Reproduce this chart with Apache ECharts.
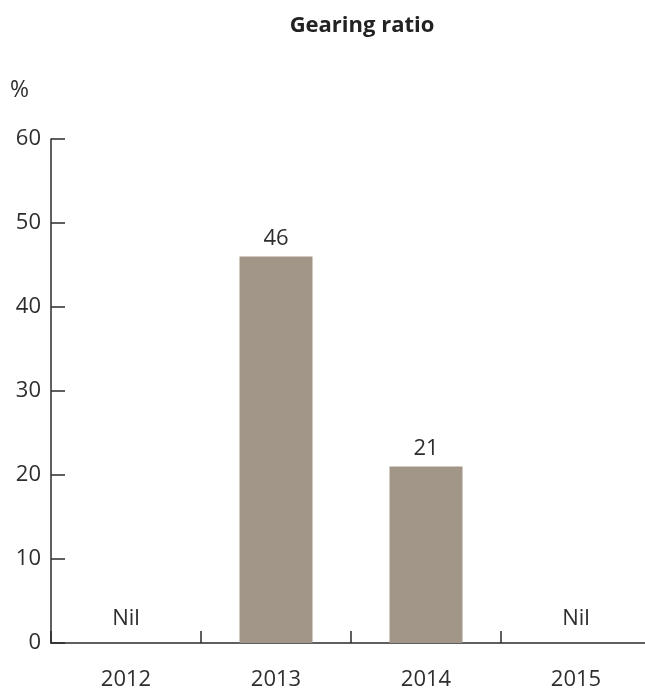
<!DOCTYPE html>
<html>
<head>
<meta charset="utf-8">
<style>
  html, body { margin: 0; padding: 0; background: #fff; }
  #chart { width: 645px; height: 691px; }
</style>
<script src="https://cdn.jsdelivr.net/npm/echarts@6/dist/echarts.min.js"></script>
</head>
<body>
<div id="chart"></div>
<script>
// Gearing ratio by year (%); a zero value is shown as "Nil"
const years = ['2012', '2013', '2014', '2015'];
const gearing = [0, 46, 21, 0];
const yTicks = [0, 10, 20, 30, 40, 50, 60];

const FONT = '"Open Sans", "Noto Sans", sans-serif';
const TEXT = '#2e2e2e';
const AXIS = '#2b2b2b';

const chart = echarts.init(document.getElementById('chart'), null, { renderer: 'canvas' });

chart.setOption({
  animation: false,
  textStyle: { fontFamily: FONT },
  graphic: [
    {
      type: 'text',
      x: 362,
      y: 26,
      style: {
        text: 'Gearing ratio',
        font: 'bold 22px ' + FONT,
        fill: '#222',
        textAlign: 'center',
        textVerticalAlign: 'middle'
      }
    },
    {
      type: 'text',
      x: 10,
      y: 90,
      style: { text: '%', font: '23px ' + FONT, fill: TEXT, textAlign: 'left', textVerticalAlign: 'middle' }
    }
  ],
  grid: {
    left: 51, top: 139, width: 600, height: 504,
    containLabel: false,
    outerBoundsMode: 'none'
  },
  xAxis: {
    type: 'category',
    data: years,
    axisLine: { lineStyle: { color: AXIS, width: 1.5 } },
    axisTick: { show: true, inside: true, length: 12, alignWithLabel: false, lineStyle: { color: AXIS, width: 1.5 } },
    axisLabel: { margin: 26, fontSize: 22, color: TEXT, fontFamily: FONT }
  },
  yAxis: {
    type: 'value',
    min: yTicks[0],
    max: yTicks[yTicks.length - 1],
    interval: 10,
    splitLine: { show: false },
    axisLine: { show: true, lineStyle: { color: AXIS, width: 1.5 } },
    axisTick: { show: true, inside: true, length: 14, lineStyle: { color: AXIS, width: 1.5 } },
    axisLabel: { margin: 10, fontSize: 22, color: TEXT, fontFamily: FONT }
  },
  series: [{
    type: 'bar',
    barWidth: 73,
    itemStyle: { color: '#a29688' },
    label: {
      show: true,
      position: 'top',
      distance: 7,
      fontSize: 22,
      color: TEXT,
      fontFamily: FONT,
      formatter: p => (p.value === 0 ? 'Nil' : String(p.value))
    },
    data: gearing.map(v => (v === 0 ? { value: v, label: { distance: 13 } } : v))
  }]
});
</script>
</body>
</html>
